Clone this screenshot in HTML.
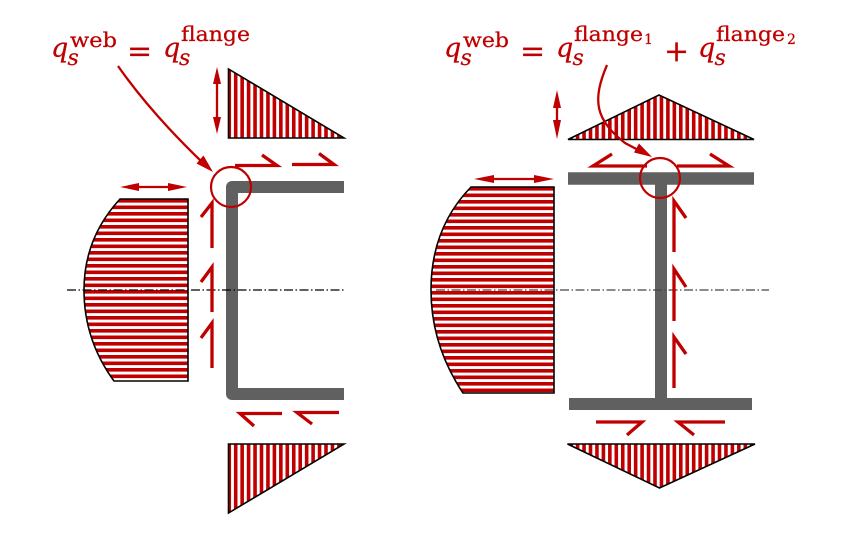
<!DOCTYPE html>
<html lang="en">
<head>
<meta charset="utf-8">
<title>Shear flow in channel and I sections</title>
<style>
html,body{margin:0;padding:0;background:#fff;}
svg{display:block;}
text{font-family:"DejaVu Serif","Liberation Serif",serif;fill:#c00000;stroke:#c00000;stroke-width:0.25;}
.v{font-style:italic;}
.arr{fill:none;stroke:#c00000;stroke-width:3.3;stroke-linecap:butt;stroke-linejoin:miter;}
.lead{fill:none;stroke:#c00000;stroke-width:2.3;}
.head{fill:#c00000;stroke:none;}
.sec{fill:none;stroke:#606060;}
.out{fill:none;stroke:#000;stroke-width:1.6;stroke-linejoin:miter;}
.circ{fill:none;stroke:#c00000;stroke-width:2.2;}
.hv{fill:none;stroke:#c00000;stroke-width:120;stroke-dasharray:3.6 2.85;}
.hh{fill:none;stroke:#c00000;stroke-width:140;stroke-dasharray:3.6 2.9;}
</style>
</head>
<body>
<svg width="858" height="533" viewBox="0 0 858 533" xmlns="http://www.w3.org/2000/svg">
<defs>
<clipPath id="c-top"><path d="M228.5 69V138H344Z"/></clipPath>
<clipPath id="c-web"><path d="M120 199H188V381H114Q84 340 84 290Q84 238 120 199Z"/></clipPath>
<clipPath id="c-bot"><path d="M228.5 444H344L228.5 513Z"/></clipPath>
<clipPath id="i-top"><path d="M568 139.5H754L659 95Z"/></clipPath>
<clipPath id="i-web"><path d="M471 187H554V393H463Q431 345 431 290Q431 228 471 187Z"/></clipPath>
<clipPath id="i-bot"><path d="M567.5 444H755L659.500 488Z"/></clipPath>
</defs>

<!-- left channel section -->
<g>
<path class="sec" stroke-width="12" stroke-linejoin="round" d="M344 187H232V394H344"/>
</g>
<g>
<path class="hv" clip-path="url(#c-top)" d="M227.45 100H350"/>
<path class="out" d="M228.5 69V138H344Z"/>
</g>
<g>
<path class="hh" clip-path="url(#c-web)" d="M136 199V385"/>
<path class="out" d="M120 199H188V381H114Q84 340 84 290Q84 238 120 199Z"/>
</g>
<g>
<path class="hv" clip-path="url(#c-bot)" d="M227.45 480H350"/>
<path class="out" d="M228.5 444H344L228.5 513Z"/>
</g>

<!-- right I section -->
<g>
<path class="sec" stroke-width="12.5" d="M568 178.5H754"/>
<path class="sec" stroke-width="12" d="M661 178V404"/>
<path class="sec" stroke-width="12" d="M569 404H752"/>
</g>
<g>
<path class="hv" clip-path="url(#i-top)" d="M562.900 120H760"/>
<path class="out" d="M568 139.5H754L659 95Z"/>
</g>
<g>
<path class="hh" clip-path="url(#i-web)" d="M490 187V397"/>
<path class="out" d="M471 187H554V393H463Q431 345 431 290Q431 228 471 187Z"/>
</g>
<g>
<path class="hv" clip-path="url(#i-bot)" d="M562.900 465H760"/>
<path class="out" d="M567.5 444H755L659.5 488Z"/>
</g>

<!-- centre lines -->
<path d="M67 290H344" stroke="#000" stroke-width="1.2" stroke-dasharray="9 2.5 1.5 2.5" fill="none"/>
<path d="M436 290H769" stroke="#444" stroke-width="1.2" stroke-dasharray="9 2.5 1.5 2.5" fill="none"/>

<!-- flow arrows: channel -->
<g>
<path class="arr" d="M235 165.5H277L262 155"/>
<path class="arr" d="M292 164.5H334L319 153.5"/>
<path class="arr" d="M212 248V203L201 217"/>
<path class="arr" d="M212 312V267L201 282"/>
<path class="arr" d="M212 368V323L201 338"/>
<path class="arr" d="M282 413.5H240L254 426"/>
<path class="arr" d="M339 412.5H297L312 424"/>
</g>

<!-- flow arrows: I section -->
<g>
<path class="arr" d="M647 166H593L612 154"/>
<path class="arr" d="M677 166H729L710 154"/>
<path class="arr" d="M674 252V201L686 218"/>
<path class="arr" d="M674 321V269L686 287"/>
<path class="arr" d="M674 388V337L686 354"/>
<path class="arr" d="M596 422H642L627 435"/>
<path class="arr" d="M725 422H678L694 435"/>
</g>

<!-- dimension arrows -->
<g>
<path class="lead" d="M217 78V123"/>
<path class="head" d="M217 67L221 84H213Z"/>
<path class="head" d="M217 134L221 117H213Z"/>
</g>
<g>
<path class="lead" d="M132 187H175"/>
<path class="head" d="M120 187L139 183V191Z"/>
<path class="head" d="M187 187L168 183V191Z"/>
</g>
<g>
<path class="lead" d="M557 100V130"/>
<path class="head" d="M557 90L561 108H553Z"/>
<path class="head" d="M557 139L561 120H553Z"/>
</g>
<g>
<path class="lead" d="M486 179H542"/>
<path class="head" d="M474 179L494 175V183Z"/>
<path class="head" d="M554 179L534 175V183Z"/>
</g>

<!-- highlight circles and leaders -->
<circle class="circ" cx="231" cy="187" r="20"/>
<circle class="circ" cx="660" cy="178" r="20"/>
<g>
<path class="lead" d="M118 66Q150 112 203 163"/>
<path class="head" d="M213 172L196.500 163.500L203.500 155.500Z"/>
</g>
<g>
<path class="lead" d="M607 65C592 100 595 120 625 143L642 152"/>
<path class="head" d="M652 157L634 152.500L639 143.500Z"/>
</g>

<!-- equations -->
<g>
<text class="v" x="51" y="57" font-size="27">q</text>
<text class="v" x="67.500" y="65" font-size="22">s</text>
<text x="70" y="47" font-size="20.500" textLength="47" lengthAdjust="spacingAndGlyphs">web</text>
<text x="127" y="61" font-size="30">=</text>
<text class="v" x="163" y="57" font-size="27">q</text>
<text class="v" x="179" y="65" font-size="22">s</text>
<text x="181" y="41" font-size="20.500" textLength="69" lengthAdjust="spacingAndGlyphs">flange</text>
</g>
<g>
<text class="v" x="444" y="57" font-size="27">q</text>
<text class="v" x="460.500" y="65" font-size="22">s</text>
<text x="463" y="47" font-size="20.500" textLength="46" lengthAdjust="spacingAndGlyphs">web</text>
<text x="520" y="61" font-size="30">=</text>
<text class="v" x="556" y="57" font-size="27">q</text>
<text class="v" x="572.500" y="65" font-size="22">s</text>
<text x="574" y="41" font-size="20.500" textLength="69" lengthAdjust="spacingAndGlyphs">flange</text>
<text x="644" y="44" font-size="14">1</text>
<text x="664" y="61" font-size="30">+</text>
<text class="v" x="698" y="57" font-size="27">q</text>
<text class="v" x="714.500" y="65" font-size="22">s</text>
<text x="716" y="41" font-size="20.500" textLength="69" lengthAdjust="spacingAndGlyphs">flange</text>
<text x="787" y="44" font-size="14">2</text>
</g>
</svg>
</body>
</html>
